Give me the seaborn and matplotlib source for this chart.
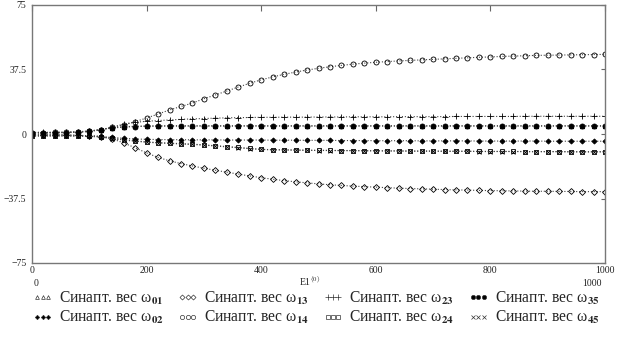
import numpy as np
import pandas as pd
import matplotlib
matplotlib.use("Agg")
import matplotlib.pyplot as plt
from matplotlib.lines import Line2D
import seaborn as sns

# ---------------- data ----------------
x_vals = list(range(0, 1001, 20))

w01 = [0.8, 0.8, 0.9, 1.0, 1.2, 1.6, 2.6, 3.6, 4.2, 4.5, 4.7, 4.8, 4.8, 4.8, 4.8, 4.8, 4.8,
       4.8, 4.8, 4.8, 4.8, 4.8, 4.8, 4.8, 4.8, 4.8, 4.8, 4.8, 4.8, 4.8, 4.8, 4.8, 4.8, 4.8,
       4.8, 4.8, 4.8, 4.8, 4.8, 4.8, 4.8, 4.8, 4.8, 4.8, 4.8, 4.8, 4.8, 4.8, 4.8, 4.8, 4.8]
w02 = [-0.5, -0.5, -0.5, -0.6, -0.8, -1.0, -1.4, -2.0, -2.5, -2.9, -3.1, -3.2, -3.3, -3.3,
       -3.4, -3.4, -3.4, -3.5, -3.5, -3.5, -3.5, -3.6, -3.6, -3.6, -3.7, -3.7, -3.7, -3.8,
       -3.8, -3.8, -3.9, -3.9, -3.9, -3.9, -4.0, -4.0, -4.0, -4.0, -4.0, -4.1, -4.1, -4.1,
       -4.1, -4.1, -4.1, -4.2, -4.2, -4.2, -4.2, -4.2, -4.2]
w13 = [-0.5, -0.5, -0.5, -0.5, -0.8, -1.0, -1.5, -2.8, -5.2, -8.0, -11.0, -13.6, -15.6,
       -17.2, -18.6, -19.9, -21.1, -22.2, -23.3, -24.4, -25.4, -26.3, -27.1, -27.8, -28.4,
       -29.0, -29.5, -29.9, -30.3, -30.6, -30.9, -31.2, -31.5, -31.7, -31.9, -32.1, -32.3,
       -32.5, -32.6, -32.8, -32.9, -33.0, -33.1, -33.2, -33.3, -33.3, -33.4, -33.4, -33.5,
       -33.5, -33.5]
w14 = [0.8, 0.8, 0.9, 1.0, 1.3, 1.8, 2.6, 3.8, 5.3, 7.2, 9.3, 11.6, 14.0, 16.0, 18.0, 20.5,
       22.7, 25.0, 27.3, 29.5, 31.5, 33.2, 34.7, 36.0, 37.2, 38.2, 39.1, 39.9, 40.6, 41.2,
       41.7, 42.1, 42.5, 42.8, 43.1, 43.4, 43.7, 44.0, 44.3, 44.6, 44.8, 45.1, 45.3, 45.5,
       45.7, 45.8, 45.9, 46.0, 46.1, 46.2, 46.3]
w23 = [1.0, 1.0, 1.0, 1.0, 1.2, 1.5, 2.5, 4.0, 5.8, 6.8, 7.4, 7.8, 8.2, 8.5, 8.8, 9.0, 9.2,
       9.4, 9.5, 9.6, 9.7, 9.7, 9.8, 9.8, 9.8, 9.9, 9.9, 9.9, 10.0, 10.0, 10.0, 10.0, 10.1,
       10.1, 10.1, 10.1, 10.1, 10.2, 10.2, 10.2, 10.2, 10.2, 10.2, 10.3, 10.3, 10.3, 10.3,
       10.3, 10.3, 10.3, 10.3]
w24 = [-1.0, -1.0, -1.0, -1.0, -1.1, -1.2, -1.5, -2.5, -3.3, -4.0, -4.6, -5.0, -5.3, -5.6,
       -5.9, -6.3, -6.8, -7.3, -7.8, -8.4, -8.9, -9.1, -9.2, -9.3, -9.4, -9.5, -9.5, -9.6,
       -9.6, -9.7, -9.7, -9.8, -9.8, -9.9, -9.9, -9.9, -10.0, -10.0, -10.0, -10.1, -10.1,
       -10.1, -10.1, -10.2, -10.2, -10.2, -10.2, -10.3, -10.3, -10.3, -10.3]
w35 = [0.5, 0.5, 0.5, 0.8, 1.0, 1.5, 2.5, 3.5, 4.0, 4.3, 4.5, 4.5, 4.6, 4.6, 4.6, 4.6, 4.6,
       4.6, 4.6, 4.6, 4.6, 4.6, 4.6, 4.6, 4.6, 4.6, 4.6, 4.6, 4.6, 4.6, 4.6, 4.6, 4.6, 4.6,
       4.6, 4.6, 4.6, 4.6, 4.6, 4.6, 4.6, 4.6, 4.6, 4.6, 4.6, 4.6, 4.6, 4.6, 4.6, 4.6, 4.6]
w45 = [-1.2, -1.2, -1.2, -1.2, -1.3, -1.4, -1.8, -2.7, -3.5, -4.2, -4.8, -5.2, -5.5, -5.8,
       -6.1, -6.5, -7.0, -7.5, -8.0, -8.5, -9.0, -9.2, -9.3, -9.4, -9.5, -9.6, -9.6, -9.7,
       -9.7, -9.8, -9.8, -9.9, -9.9, -10.0, -10.0, -10.0, -10.1, -10.1, -10.1, -10.2, -10.2,
       -10.2, -10.2, -10.3, -10.3, -10.3, -10.3, -10.4, -10.4, -10.4, -10.4]

series_names = ["01", "02", "13", "14", "23", "24", "35", "45"]
series_vals = [w01, w02, w13, w14, w23, w24, w35, w45]

# ---------------- styles ----------------
# marker, size, filled
marker_style = {
    "01": ("^", 3.2, False),
    "02": ("D", 2.6, True),
    "13": ("D", 3.0, False),
    "14": ("o", 3.6, False),
    "23": ("+", 4.5, False),
    "24": ("s", 3.4, False),
    "35": ("o", 3.6, True),
    "45": ("x", 3.2, False),
}

sns.set_style("white")
plt.rcParams['font.family'] = ['Liberation Serif', 'DejaVu Serif']
plt.rcParams['mathtext.fontset'] = 'stix'

fig = plt.figure(figsize=(6.23, 3.44), dpi=100)
ax = fig.add_axes([32 / 623, 1 - 263 / 344, (605 - 32) / 623, (263 - 5) / 344])

for name, vals in zip(series_names, series_vals):
    m, ms, filled = marker_style[name]
    df = pd.DataFrame({"x": x_vals, "y": vals})
    sns.lineplot(data=df, x="x", y="y", ax=ax, color="#444444", linestyle=":",
                 linewidth=0.8, marker=m, markersize=ms,
                 markerfacecolor="black" if filled else "none",
                 markeredgecolor="black", markeredgewidth=0.6)

ax.set_xlim(0, 1000)
ax.set_ylim(-75, 75)
ax.set_xticks([0, 200, 400, 600, 800, 1000])
ax.set_yticks([-75, -37.5, 0, 37.5, 75])
ax.set_yticklabels(["\u221275", "\u221237.5", "0", "37.5", "75"])
ax.set_xlabel("")
ax.set_ylabel("")
ax.tick_params(axis="x", direction="in", length=4, width=0.8, colors="#666666",
               labelcolor="#222222", labelsize=7, pad=2, top=True)
ax.tick_params(axis="y", direction="out", length=3, width=0.8, colors="#666666",
               labelcolor="#222222", labelsize=7, pad=1)
ax.tick_params(axis="y", which="both", right=True)
# ticks on the right point inwards
for t in ax.yaxis.get_ticklines()[1::2]:
    t.set_marker(matplotlib.markers.TICKLEFT)
for sp in ax.spines.values():
    sp.set_color("#777777")
    sp.set_linewidth(1.0)

# axis limit labels and axis name, Mathcad style
fig.text(36 / 623, 1 - 283 / 344, "0", fontsize=7, ha="center", va="center", color="#222222")
fig.text(592 / 623, 1 - 283 / 344, "1000", fontsize=7, ha="center", va="center", color="#222222")
fig.text(310 / 623, 1 - 281 / 344, r"E1$^{\langle 0\rangle}$", fontsize=7, ha="center",
         va="center", color="#222222")

# ---------------- legend ----------------
handles = []
labels = []
for name in series_names:
    m, ms, filled = marker_style[name]
    handles.append(Line2D([], [], linestyle="none", marker=m, markersize=ms * 0.85,
                          markerfacecolor="black" if filled else "none",
                          markeredgecolor="#333333", markeredgewidth=0.5))
    labels.append("Синапт. вес ω$_{\\mathbf{" + name + "}}$")

fig.legend(handles, labels, ncol=4, loc="upper left", bbox_to_anchor=(0.035, 0.19),
           frameon=False, fontsize=11.2, numpoints=3, handlelength=1.3, handletextpad=0.4,
           columnspacing=0.9, labelspacing=0.15, borderpad=0.2)

fig.savefig("out.png", dpi=100)
